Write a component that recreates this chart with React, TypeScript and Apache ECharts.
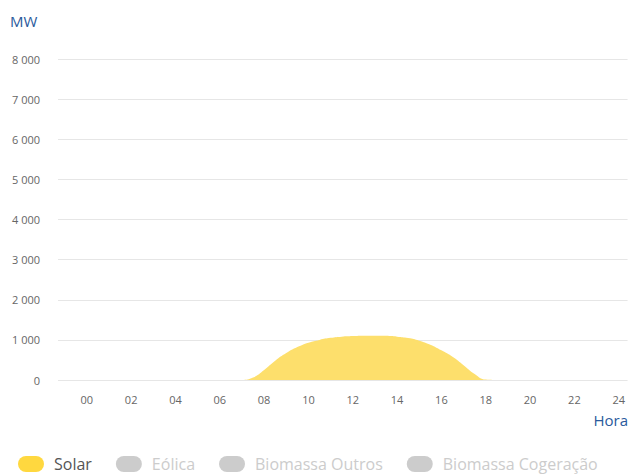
import React, { useEffect, useRef } from "react";
import * as echarts from "echarts";

const hours = [
  0, 0.5, 1, 1.5, 2, 2.5, 3, 3.5, 4, 4.5, 5, 5.5, 6, 6.5, 7, 7.5, 8, 8.5, 9, 9.5, 10, 10.5, 11, 11.5,
  12, 12.5, 13, 13.5, 14, 14.5, 15, 15.5, 16, 16.5, 17, 17.5, 18, 18.5, 19, 19.5, 20, 20.5, 21, 21.5,
  22, 22.5, 23, 23.5,
];
const solar = [
  0, 0, 0, 0, 0, 0, 0, 0, 0, 0, 0, 0, 0, 0, 0, 60, 250, 480, 670, 820, 930, 1000, 1050, 1080,
  1095, 1105, 1105, 1100, 1080, 1045, 980, 880, 740, 580, 370, 150, 10, 0, 0, 0, 0, 0, 0, 0,
  0, 0, 0, 0,
];
const eolica: number[] = [];
const biomassaOutros: number[] = [];
const biomassaCogeracao: number[] = [];

const xTicks = [0, 2, 4, 6, 8, 10, 12, 14, 16, 18, 20, 22, 24];
const seriesNames = ["Solar", "Eólica", "Biomassa Outros", "Biomassa Cogeração"];

const FONT = "'Open Sans', sans-serif";
const pill = "path://M8,0 H18 A8,8 0 0 1 18,16 H8 A8,8 0 0 1 8,0 Z";

export default function App() {
  const ref = useRef<HTMLDivElement>(null);
  useEffect(() => {
    const chart = echarts.init(ref.current!, null, { renderer: "svg" });
    const pair = (arr: number[]) => arr.map((v, i) => [hours[i], v]);
    chart.setOption({
      animation: false,
      textStyle: { fontFamily: FONT },
      grid: { left: 58, right: 0, top: 59, bottom: 94, containLabel: false },
      xAxis: {
        type: "value",
        min: -1.3,
        max: 24.4,
        axisLine: { show: false },
        axisTick: { show: false },
        splitLine: { show: false },
        axisLabel: {
          customValues: xTicks,
          formatter: (v: number) => String(v).padStart(2, "0"),
          color: "#666",
          fontSize: 11,
          margin: 14,
          fontFamily: FONT,
        },
      },
      yAxis: {
        type: "value",
        min: 0,
        max: 8000,
        interval: 1000,
        axisLine: { show: false },
        axisTick: { show: false },
        splitLine: { lineStyle: { color: "#e6e6e6", width: 1 } },
        axisLabel: {
          formatter: (v: number) => String(v).replace(/\B(?=(\d{3})+(?!\d))/g, " "),
          color: "#666",
          fontSize: 11,
          margin: 18,
          fontFamily: FONT,
        },
      },
      legend: {
        data: seriesNames,
        left: 18,
        top: 455,
        padding: [0, 0, 0, 0],
        icon: pill,
        itemWidth: 26,
        itemHeight: 16,
        itemGap: 24,
        selected: {
          Solar: true,
          "Eólica": false,
          "Biomassa Outros": false,
          "Biomassa Cogeração": false,
        },
        inactiveColor: "#cccccc",
        textStyle: { color: "#555", fontSize: 16, lineHeight: 18, fontFamily: FONT, padding: [0, 0, 0, 5] },
      },
      graphic: [
        { type: "text", left: 10, top: 13, style: { text: "MW", fill: "#2a5a9c", fontSize: 15, fontFamily: FONT } },
        { type: "text", right: 0, top: 412, style: { text: "Hora", fill: "#2a5a9c", fontSize: 15, fontFamily: FONT } },
      ],
      series: [
        {
          name: "Solar",
          type: "line",
          smooth: true,
          symbol: "none",
          color: "#FFD83F",
          lineStyle: { width: 0 },
          areaStyle: { color: "#FDDF6C", opacity: 1 },
          data: pair(solar),
        },
        { name: "Eólica", type: "line", color: "#4fa3d9", symbol: "none", data: pair(eolica) },
        { name: "Biomassa Outros", type: "line", color: "#7cb342", symbol: "none", data: pair(biomassaOutros) },
        { name: "Biomassa Cogeração", type: "line", color: "#2e7d32", symbol: "none", data: pair(biomassaCogeracao) },
      ],
    });
    return () => chart.dispose();
  }, []);
  return (
    <div
      ref={ref}
      style={{ position: "fixed", left: 0, top: 0, width: 628, height: 474, background: "#fff" }}
    />
  );
}
